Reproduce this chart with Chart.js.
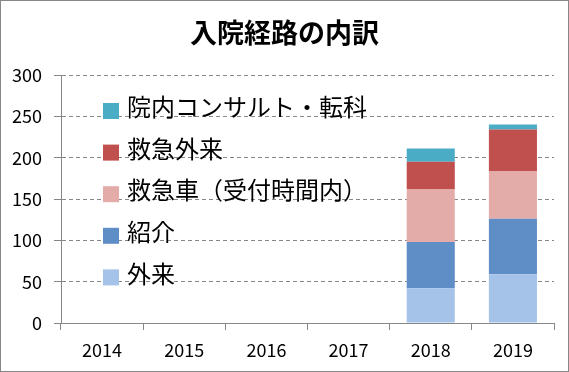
<!DOCTYPE html>
<html>
<head>
<meta charset="utf-8">
<script src="https://cdn.jsdelivr.net/npm/chart.js@4/dist/chart.umd.min.js"></script>
<style>
  html, body { margin: 0; padding: 0; background: #fff; }
  #wrap { width: 569px; height: 372px; position: relative; }
</style>
</head>
<body>
<div id="wrap"><canvas id="grafica"></canvas></div>
<script>
// datos
const anios = ['2014', '2015', '2016', '2017', '2018', '2019'];
const gairai = [null, null, null, null, 42, 59];
const shoukai = [null, null, null, null, 56, 67];
const kyukyusha = [null, null, null, null, 64, 58];
const kyukyuGairai = [null, null, null, null, 33, 50];
const innai = [null, null, null, null, 16, 6];
const ticksY = [0, 50, 100, 150, 200, 250, 300];
const titulo = '入院経路の内訳';

const fuente = '"Noto Sans CJK JP", "Noto Sans", sans-serif';
const gris = '#878787';

const series = [
  { label: '外来', data: gairai, color: '#A5C2E8' },
  { label: '紹介', data: shoukai, color: '#5F8DC6' },
  { label: '救急車（受付時間内）', data: kyukyusha, color: '#E3ACA9' },
  { label: '救急外来', data: kyukyuGairai, color: '#C0504D' },
  { label: '院内コンサルト・転科', data: innai, color: '#4BACC6' }
];

// titulo centrado en el lienzo, leyenda dentro del area (orden inverso) y marco
const leyendaYMarco = {
  id: 'leyendaYMarco',
  afterDraw(chart) {
    const ctx = chart.ctx;
    ctx.save();
    ctx.strokeStyle = gris;
    ctx.lineWidth = 1;
    ctx.strokeRect(0.5, 0.5, chart.width - 1, chart.height - 1);

    ctx.fillStyle = '#000';
    ctx.textAlign = 'center';
    ctx.textBaseline = 'middle';
    ctx.font = 'bold 27px ' + fuente;
    ctx.fillText(titulo, chart.width / 2, 33);

    const items = chart.data.datasets.slice().reverse();
    ctx.font = '24px ' + fuente;
    ctx.textAlign = 'left';
    items.forEach((ds, i) => {
      const cy = 111 + i * 41.6;
      ctx.fillStyle = ds.backgroundColor;
      ctx.fillRect(103, cy - 8, 16, 16);
      ctx.fillStyle = '#000';
      ctx.fillText(ds.label, 127, cy - 4);
    });
    ctx.restore();
  }
};

const contexto = document.getElementById('grafica').getContext('2d');
new Chart(contexto, {
  type: 'bar',
  data: {
    labels: anios,
    datasets: series.map(s => ({
      label: s.label,
      data: s.data,
      backgroundColor: s.color,
      borderWidth: 0,
      barPercentage: 0.585,
      categoryPercentage: 1
    }))
  },
  options: {
    responsive: true,
    maintainAspectRatio: false,
    animation: false,
    layout: { padding: { left: 0, right: 15, top: 75, bottom: 0 } },
    plugins: {
      legend: { display: false },
      tooltip: { enabled: false },
      title: { display: false }
    },
    scales: {
      x: {
        stacked: true,
        grid: {
          display: true,
          drawOnChartArea: false,
          drawTicks: true,
          tickLength: 7,
          color: gris,
          offset: true
        },
        border: { display: true, color: gris, width: 1 },
        ticks: {
          color: '#000',
          padding: 9,
          font: { family: fuente, size: 18 }
        },
        afterFit: escala => { escala.height = 49; }
      },
      y: {
        stacked: true,
        min: 0,
        max: 300,
        afterBuildTicks: escala => {
          escala.ticks = ticksY.map(v => ({ value: v }));
        },
        grid: {
          color: gris,
          tickLength: 7,
          lineWidth: 1
        },
        border: { display: true, color: gris, width: 1, dash: [4, 3] },
        ticks: {
          color: '#000',
          padding: 12,
          font: { family: fuente, size: 18 }
        },
        afterFit: escala => { escala.width = 61; }
      }
    }
  },
  plugins: [leyendaYMarco]
});
</script>
</body>
</html>
